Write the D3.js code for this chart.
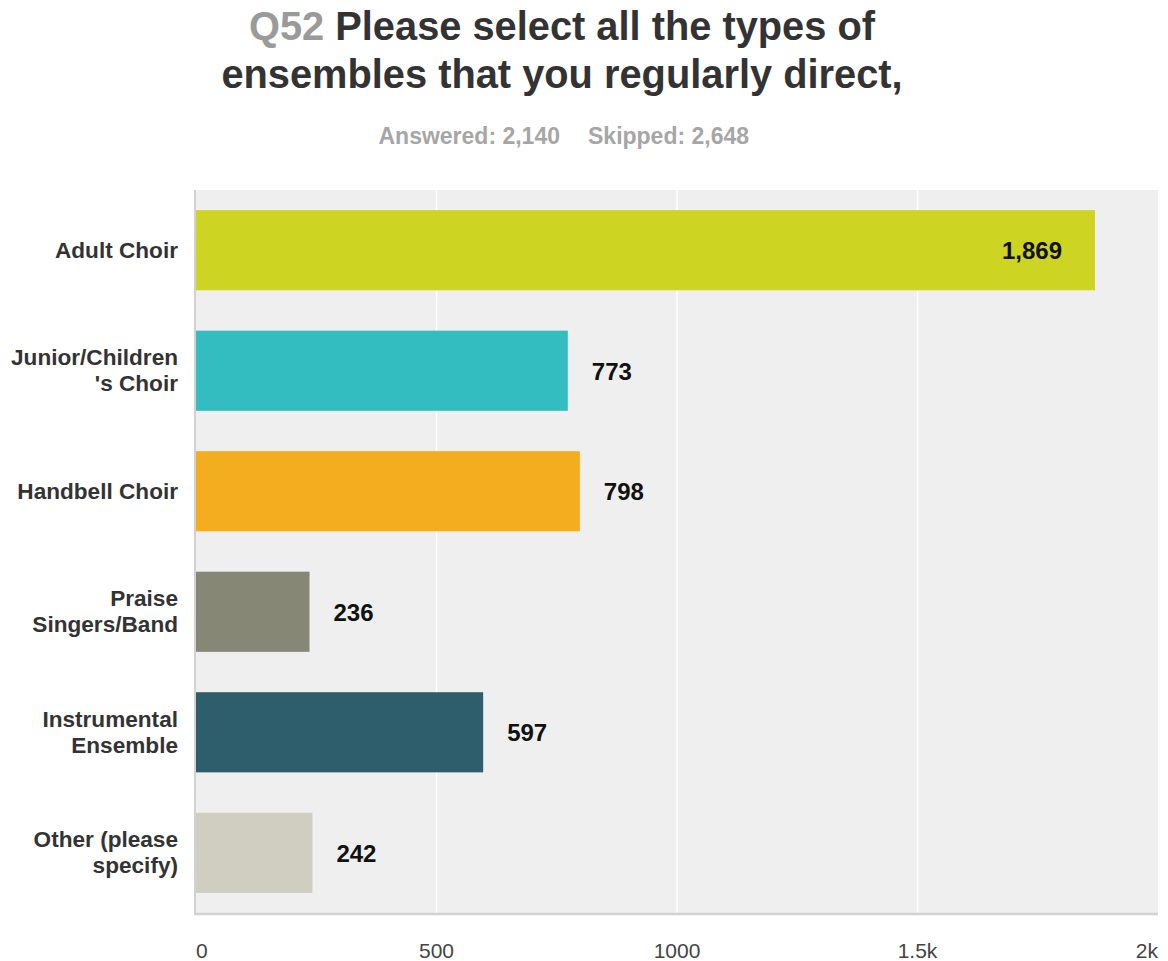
<!DOCTYPE html>
<html><head><meta charset="utf-8">
<script src="https://cdn.jsdelivr.net/npm/d3@7"></script>
<style>body{margin:0;background:#fff;font-family:"Liberation Sans",Arial,sans-serif;}</style>
</head><body><svg id="c" width="1168" height="961"></svg>
<script>
const categories = [["Adult Choir"],["Junior/Children","'s Choir"],["Handbell Choir"],["Praise","Singers/Band"],["Instrumental","Ensemble"],["Other (please","specify)"]];
const values = [1869, 773, 798, 236, 597, 242];
const colors = ["#cdd422","#33bdc1","#f5ad20","#878776","#2e5d6b","#cfcec0"];
const tickValues = [0, 500, 1000, 1500, 2000];
const tickLabels = ["0","500","1000","1.5k","2k"];

const svg = d3.select("#c").attr("font-family","'Liberation Sans', Arial, sans-serif");
const L = 196, R = 1158, T = 190, B = 913;
const x = d3.scaleLinear().domain([0,2000]).range([L,R]);
const y = d3.scaleBand().domain(d3.range(values.length)).range([T,B]).paddingInner(0.335).paddingOuter(0.167);

svg.append("rect").attr("x",L).attr("y",T).attr("width",R-L).attr("height",B-T).attr("fill","#efefef");
svg.append("g").selectAll("line").data(tickValues.slice(1,-1)).join("line")
  .attr("x1",d=>x(d)).attr("x2",d=>x(d)).attr("y1",T).attr("y2",B)
  .attr("stroke","#fff").attr("stroke-width",1.5);

svg.append("g").selectAll("rect").data(values).join("rect")
  .attr("x",x(0)).attr("y",(d,i)=>y(i)).attr("width",d=>x(d)-x(0)).attr("height",y.bandwidth())
  .attr("fill",(d,i)=>colors[i]);

// axes lines
svg.append("line").attr("x1",L-1).attr("x2",L-1).attr("y1",T).attr("y2",B+1).attr("stroke","#d2d2d2").attr("stroke-width",2);
svg.append("line").attr("x1",L-2).attr("x2",R).attr("y1",B+1).attr("y2",B+1).attr("stroke","#d2d2d2").attr("stroke-width",2.5);

// value labels
const fmt = d3.format(",");
svg.append("g").selectAll("text").data(values).join("text")
  .attr("x",d=> d>1500 ? x(d)-33 : x(d)+24)
  .attr("y",(d,i)=>y(i)+y.bandwidth()/2+9)
  .attr("text-anchor",d=> d>1500 ? "end":"start")
  .attr("font-size",24).attr("font-weight","bold").attr("fill","#111")
  .text(d=>fmt(d));

// category labels
const cl = svg.append("g");
categories.forEach((lines,i)=>{
  const cy = y(i)+y.bandwidth()/2;
  const lh = 26;
  const t = cl.append("text").attr("text-anchor","end").attr("font-size",22.6).attr("font-weight","bold").attr("fill","#333");
  lines.forEach((ln,j)=>{
    t.append("tspan").attr("x",178).attr("y",cy + 7.5 + (j-(lines.length-1)/2)*lh).text(ln);
  });
});

// x tick labels
svg.append("g").selectAll("text").data(tickValues).join("text")
  .attr("x",d=>x(d)).attr("y",958)
  .attr("text-anchor",(d,i)=> i===0 ? "start" : (i===tickValues.length-1 ? "end":"middle"))
  .attr("font-size",21).attr("fill","#444")
  .text((d,i)=>tickLabels[i]);

// title
const title = svg.append("text").attr("text-anchor","middle").attr("font-size",39.8).attr("font-weight","bold").attr("fill","#333");
const t1 = title.append("tspan").attr("x",562).attr("y",40);
t1.append("tspan").attr("fill","#9a9a9a").text("Q52 ");
t1.append("tspan").text("Please select all the types of");
title.append("tspan").attr("x",562).attr("y",88).text("ensembles that you regularly direct,");

svg.append("text").attr("x",560).attr("y",144).attr("text-anchor","end").attr("font-size",23).attr("font-weight","bold").attr("fill","#a6a6a6")
  .text("Answered: 2,140");
svg.append("text").attr("x",588).attr("y",144).attr("text-anchor","start").attr("font-size",23).attr("font-weight","bold").attr("fill","#a6a6a6")
  .text("Skipped: 2,648");
</script></body></html>
